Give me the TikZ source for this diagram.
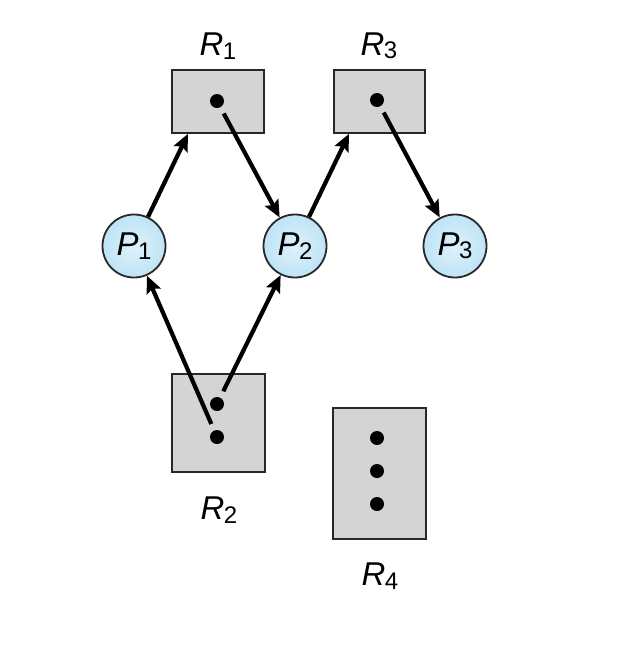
\documentclass[tikz,border=0pt]{standalone}
\usepackage{fontspec}
\setmainfont{Liberation Sans}
\usetikzlibrary{arrows.meta,calc}
\definecolor{boxgray}{RGB}{212,212,212}
\definecolor{procblue}{RGB}{190,228,246}
\definecolor{edgegray}{RGB}{40,40,40}
\newcommand\mylbl[2]{{\fontsize{33}{33}\selectfont\itshape #1}\kern-0.5pt\raisebox{-0.33em}{\fontsize{24}{24}\selectfont #2}}
\begin{document}
\begin{tikzpicture}[x=1pt,y=-1pt,
  resbox/.style={draw=edgegray,line width=1.8pt,fill=boxgray,inner sep=0pt,anchor=north west},
  proc/.style={circle,draw=edgegray,line width=1.8pt,inner color=procblue!50,outer color=procblue,minimum size=63pt,inner sep=0pt},
  dotpt/.style={circle,fill=black,minimum size=14pt,inner sep=0pt},
  lbl/.style={inner sep=0pt},
  edge/.style={line width=4.2pt,-{Stealth[length=17pt,width=15pt,inset=3pt]}}]
\useasboundingbox (0,0) rectangle (632,646);
% resource boxes
\node[resbox,minimum width=92pt,minimum height=63pt] (R1) at (171,69) {};
\node[resbox,minimum width=91pt,minimum height=63pt] (R3) at (333,69) {};
\node[resbox,minimum width=93pt,minimum height=98pt] (R2) at (171,373) {};
\node[resbox,minimum width=93pt,minimum height=131pt] (R4) at (332,407) {};
% labels
\node[lbl] (L1) at (218,46) {\mylbl{R}{1}};
\node[lbl] (L3) at (379,46) {\mylbl{R}{3}};
\node[lbl] (L2) at (219,510) {\mylbl{R}{2}};
\node[lbl] (L4) at (380,576) {\mylbl{R}{4}};
% dots
\node[dotpt] (d1) at (217,101) {};
\node[dotpt] (d3) at (377,100) {};
\node[dotpt] (d2a) at (217,404) {};
\node[dotpt] (d2b) at (217,437) {};
\node[dotpt] (d4a) at (377,438) {};
\node[dotpt] (d4b) at (377,471) {};
\node[dotpt] (d4c) at (377,504) {};
% processes
\node[proc] (P1) at (134,246) {\mylbl{P}{1}};
\node[proc] (P2) at (295,246) {\mylbl{P}{2}};
\node[proc] (P3) at (455,246) {\mylbl{P}{3}};
% entry points on boxes
\coordinate (r1in) at ($(R1.south west)+(17,0)$);
\coordinate (r3in) at ($(R3.south west)+(16,0)$);
% edges
\draw[edge] (P1) -- (r1in);
\draw[edge,shorten <=7pt] (d1) -- (P2);
\draw[edge] (P2) -- (r3in);
\draw[edge,shorten <=7pt] (d3) -- (P3);
\draw[edge,shorten <=7pt] (d2b) -- (P1);
\draw[edge,shorten <=7pt] (d2a) -- (P2);
\end{tikzpicture}
\end{document}
